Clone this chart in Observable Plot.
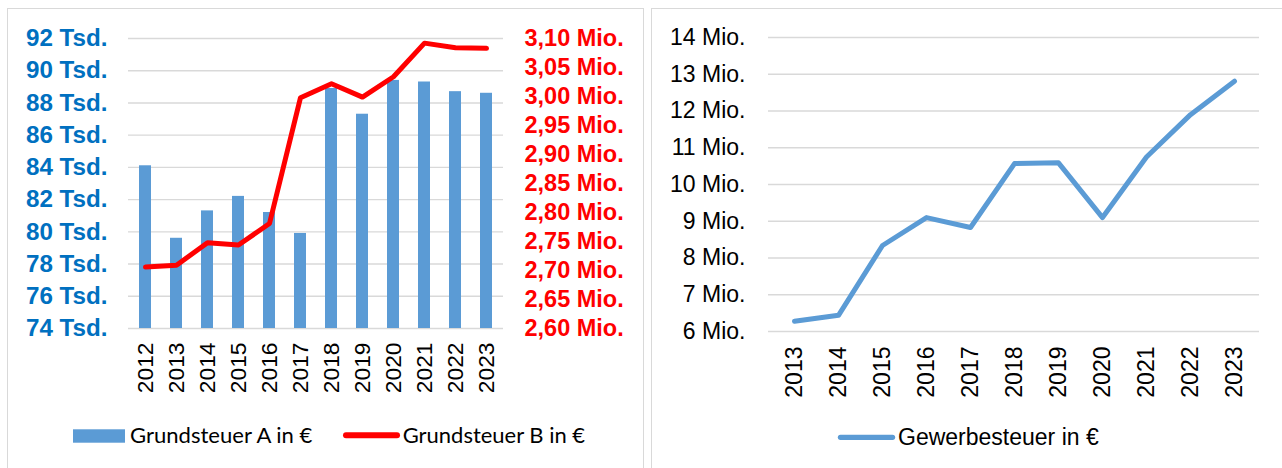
<!DOCTYPE html>
<html><head><meta charset="utf-8">
<script src="https://cdn.jsdelivr.net/npm/d3@7"></script>
<script src="https://cdn.jsdelivr.net/npm/@observablehq/plot@0.6"></script>
<style>
body{margin:0;background:#fff;width:1282px;height:468px;overflow:hidden;position:relative;font-family:"Liberation Sans",Arial,sans-serif;}
.panel{position:absolute;border:1.5px solid #d9d9d9;box-sizing:border-box;}
.layer{position:absolute;top:0;}
#legend{position:absolute;left:0;top:0;}
</style></head><body>
<div class="panel" style="left:7px;top:8px;width:637px;height:480px"></div>
<div class="panel" style="left:651px;top:8px;width:640px;height:480px"></div>
<div id="a" class="layer" style="left:0"></div>
<div id="b" class="layer" style="left:0"></div>
<div id="c" class="layer" style="left:651px"></div>
<svg id="legend" width="1282" height="468"></svg>
<script>
// Left chart: Grundsteuer A (Tsd. €, bars) and Grundsteuer B (Mio. €, line)
const yearsA = ["2012","2013","2014","2015","2016","2017","2018","2019","2020","2021","2022","2023"];
const grundsteuerA = [84.1, 79.6, 81.3, 82.2, 81.2, 79.9, 88.9, 87.3, 89.4, 89.3, 88.7, 88.6];
const grundsteuerB = [2.706, 2.709, 2.748, 2.744, 2.781, 2.998, 3.022, 2.999, 3.034, 3.092, 3.084, 3.083];
const ticksA = [74, 76, 78, 80, 82, 84, 86, 88, 90, 92];
const ticksB = [2.60, 2.65, 2.70, 2.75, 2.80, 2.85, 2.90, 2.95, 3.00, 3.05, 3.10];
// Right chart: Gewerbesteuer (Mio. €)
const yearsC = ["2013","2014","2015","2016","2017","2018","2019","2020","2021","2022","2023"];
const gewerbesteuer = [6.28, 6.44, 8.34, 9.10, 8.83, 10.57, 10.59, 9.10, 10.75, 11.90, 12.81];
const ticksC = [6, 7, 8, 9, 10, 11, 12, 13, 14];
const legendLabels = ["Grundsteuer A in €", "Grundsteuer B in €", "Gewerbesteuer in €"];
const colors = {a: "#5B9BD5", b: "#FF0000", c: "#5B9BD5", axisA: "#0070C0", grid: "#d9d9d9"};

const dataA = yearsA.map((y, i) => ({year: y, a: grundsteuerA[i], b: grundsteuerB[i]}));
const dataC = yearsC.map((y, i) => ({year: y, v: gewerbesteuer[i]}));
const baseStyle = {background: "transparent", overflow: "visible", fontFamily: "'Liberation Sans', Arial, sans-serif"};

const plotA = Plot.plot({
  width: 643, height: 410, marginLeft: 128, marginRight: 140, marginTop: 38, marginBottom: 82,
  style: baseStyle,
  x: {type: "band", domain: yearsA, paddingInner: 0.6, paddingOuter: 0.3},
  y: {domain: [ticksA[0], ticksA[ticksA.length - 1]]},
  marks: [
    Plot.gridY(ticksA, {stroke: colors.grid, strokeOpacity: 1, strokeWidth: 1.4}),
    Plot.barY(dataA, {x: "year", y1: ticksA[0], y2: "a", fill: colors.a}),
    Plot.axisY(ticksA, {tickSize: 0, tickPadding: 21, tickFormat: d => d + " Tsd.", fontSize: 24.2, fontWeight: "bold", fill: colors.axisA, label: null}),
    Plot.axisX({tickSize: 0, tickPadding: 14, tickRotate: -90, fontSize: 22.8, fill: "#000", label: null})
  ]
});
document.getElementById("a").appendChild(plotA);

const plotB = Plot.plot({
  width: 643, height: 410, marginLeft: 128, marginRight: 140, marginTop: 38, marginBottom: 82,
  style: baseStyle,
  x: {type: "point", domain: yearsA, padding: 0.5, axis: null},
  y: {domain: [ticksB[0], ticksB[ticksB.length - 1]]},
  marks: [
    Plot.lineY(dataA, {x: "year", y: "b", stroke: colors.b, strokeWidth: 5, strokeLinejoin: "round", strokeLinecap: "round"}),
    Plot.axisY(ticksB, {anchor: "right", tickSize: 0, tickPadding: 21, tickFormat: d => d.toFixed(2).replace(".", ",") + " Mio.", fontSize: 23.5, fontWeight: "bold", fill: colors.b, label: null})
  ]
});
document.getElementById("b").appendChild(plotB);

const plotC = Plot.plot({
  width: 631, height: 410, marginLeft: 117, marginRight: 23, marginTop: 37, marginBottom: 79,
  style: baseStyle,
  x: {type: "point", domain: yearsC, padding: 0.5},
  y: {domain: [ticksC[0], ticksC[ticksC.length - 1]]},
  marks: [
    Plot.gridY(ticksC, {stroke: colors.grid, strokeOpacity: 1, strokeWidth: 1.4}),
    Plot.lineY(dataC, {x: "year", y: "v", stroke: colors.c, strokeWidth: 5, strokeLinejoin: "round", strokeLinecap: "round"}),
    Plot.axisY(ticksC, {tickSize: 0, tickPadding: 23, tickFormat: d => d + " Mio.", fontSize: 23, fill: "#000", label: null}),
    Plot.axisX({tickSize: 0, tickPadding: 15, tickRotate: -90, fontSize: 23, fill: "#000", label: null})
  ]
});
document.getElementById("c").appendChild(plotC);

// Legends (below the two charts)
const lg = d3.select("#legend");
lg.append("rect").attr("x", 73).attr("y", 429.3).attr("width", 52).attr("height", 13.4).attr("fill", colors.a);
lg.append("line").attr("x1", 346).attr("x2", 397).attr("y1", 435.3).attr("y2", 435.3)
  .attr("stroke", colors.b).attr("stroke-width", 6).attr("stroke-linecap", "round");
lg.append("line").attr("x1", 840.5).attr("x2", 892.5).attr("y1", 437.3).attr("y2", 437.3)
  .attr("stroke", colors.c).attr("stroke-width", 5.3).attr("stroke-linecap", "round");
function legendText(x, y, label, font, size, targetWidth) {
  const t = lg.append("text").attr("x", x).attr("y", y).attr("font-family", font)
    .attr("font-size", size).attr("fill", "#000").text(label);
  if (targetWidth) {
    const w = t.node().getComputedTextLength();
    if (w > 0) t.attr("transform", `translate(${x},0) scale(${targetWidth / w},1) translate(${-x},0)`);
  }
}
legendText(130, 443, legendLabels[0], "Lato, 'Open Sans', sans-serif", 21, 182.5);
legendText(402.7, 443, legendLabels[1], "Lato, 'Open Sans', sans-serif", 21, 182.5);
legendText(898, 444.7, legendLabels[2], "'Liberation Sans', Arial, sans-serif", 23, null);
</script>
</body></html>
